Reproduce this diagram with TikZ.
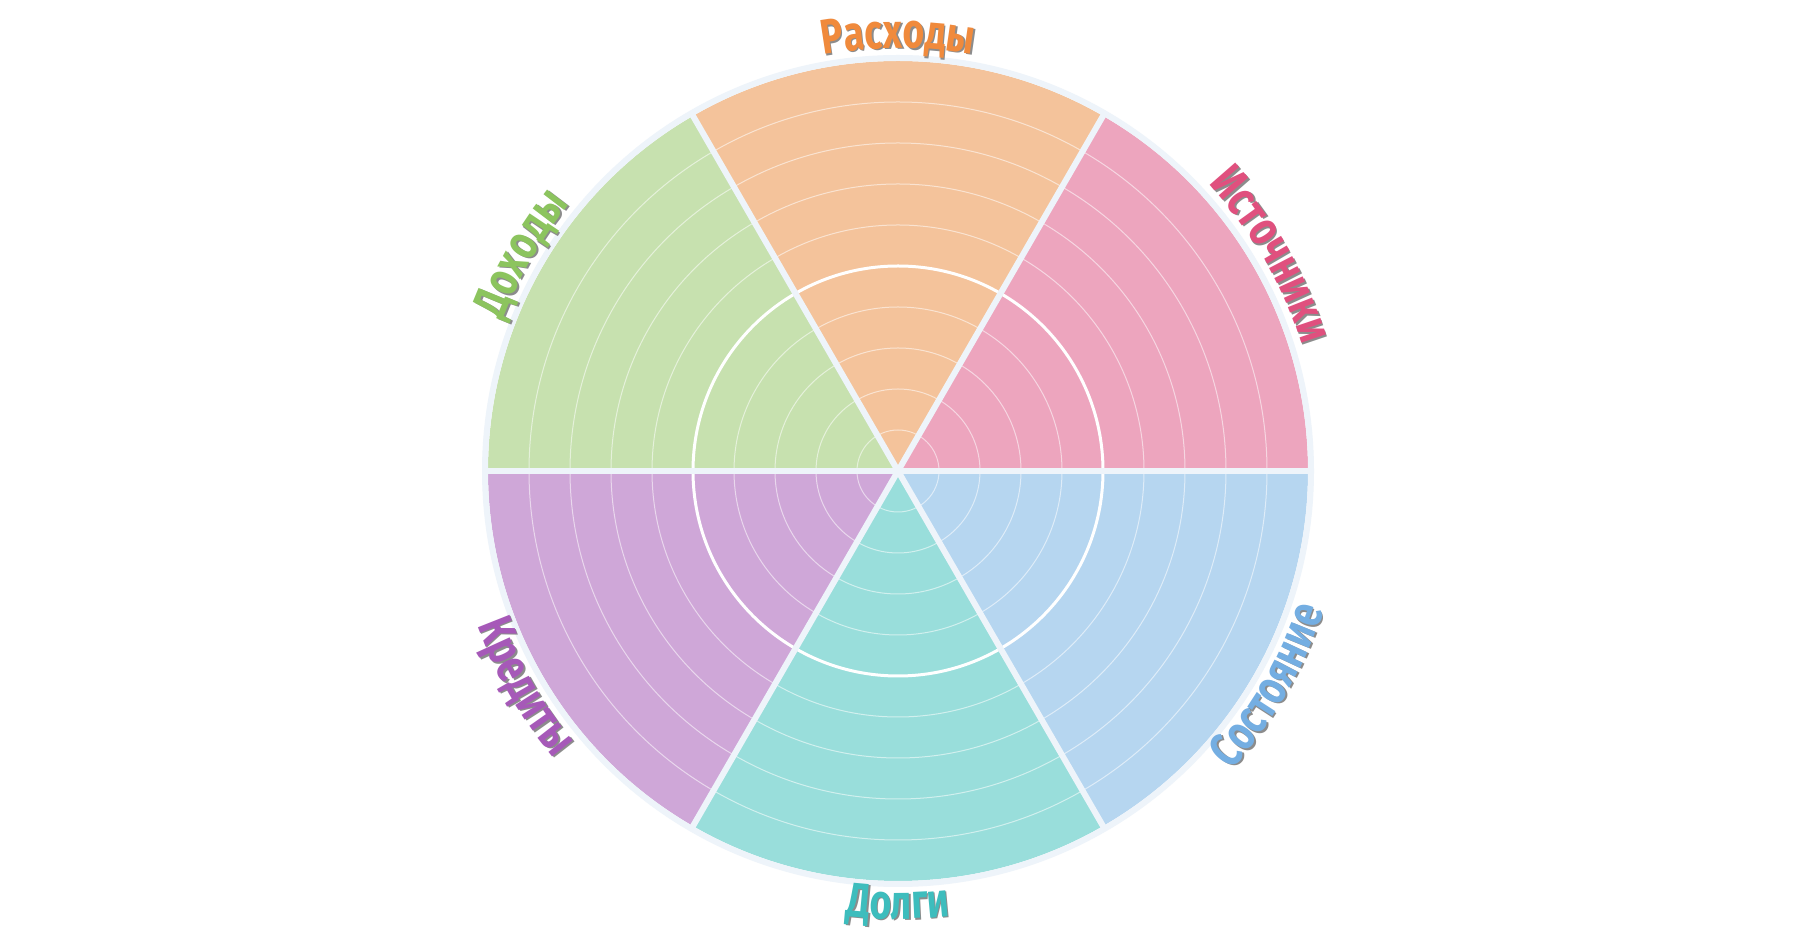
\documentclass[tikz,border=0pt]{standalone}
\usepackage{fontspec}
\usetikzlibrary{decorations.text}
\newfontfamily\labelfont{Fira Sans}[FakeStretch=0.76]
\definecolor{bordercol}{HTML}{EEF4FA}
\definecolor{fOrange}{HTML}{F4C39B}
\definecolor{fPink}{HTML}{EDA5BE}
\definecolor{fGreen}{HTML}{C7E1AF}
\definecolor{fPurple}{HTML}{CFA7D8}
\definecolor{fTeal}{HTML}{99DEDB}
\definecolor{fBlue}{HTML}{B6D6F0}
\definecolor{tOrange}{HTML}{F08A3C}
\definecolor{tPink}{HTML}{E0507E}
\definecolor{tGreen}{HTML}{8CC45E}
\definecolor{tPurple}{HTML}{A659B8}
\definecolor{tTeal}{HTML}{3DBDBD}
\definecolor{tBlue}{HTML}{74AEE2}
\newcommand\lblfmt{\labelfont\bfseries\fontsize{49}{52}\selectfont}
% top labels: clockwise, letters outward
\newcommand\outerlabel[3]{%
  \begin{scope}[shift={(1.6,-1.6)}]
  \path[decorate,decoration={text along path,text align=center,
    text={|\lblfmt\color{black!45}|#3}}]
    ({#1+30}:423) arc[start angle={#1+30},end angle={#1-30},radius=423];
  \end{scope}
  \path[decorate,decoration={text along path,text align=center,
    text={|\lblfmt\color{#2}|#3}}]
    ({#1+30}:423) arc[start angle={#1+30},end angle={#1-30},radius=423];
}
% bottom labels: counterclockwise, letters inward
\newcommand\innerlabel[3]{%
  \begin{scope}[shift={(1.6,-1.6)}]
  \path[decorate,decoration={text along path,text align=center,
    text={|\lblfmt\color{black!45}|#3}}]
    ({#1-30}:448) arc[start angle={#1-30},end angle={#1+30},radius=448];
  \end{scope}
  \path[decorate,decoration={text along path,text align=center,
    text={|\lblfmt\color{#2}|#3}}]
    ({#1-30}:448) arc[start angle={#1-30},end angle={#1+30},radius=448];
}
\tikzset{
  sep/.style={bordercol,line width=6},
  ring/.style={white,opacity=0.55,line width=1},
}
\begin{document}
\begin{tikzpicture}[x=1pt,y=1pt]
\useasboundingbox[fill=white] (0,0) rectangle (1796,942);
\begin{scope}[shift={(898,471)}]
  \fill[fPink]   (0,0) -- (0:410)   arc[start angle=0,end angle=60,radius=410] -- cycle;
  \fill[fOrange] (0,0) -- (60:410)  arc[start angle=60,end angle=120,radius=410] -- cycle;
  \fill[fGreen]  (0,0) -- (120:410) arc[start angle=120,end angle=180,radius=410] -- cycle;
  \fill[fPurple] (0,0) -- (180:410) arc[start angle=180,end angle=240,radius=410] -- cycle;
  \fill[fTeal]   (0,0) -- (240:410) arc[start angle=240,end angle=300,radius=410] -- cycle;
  \fill[fBlue]   (0,0) -- (300:410) arc[start angle=300,end angle=360,radius=410] -- cycle;
  \foreach \r in {41,82,123,164,246,287,328,369}
    \draw[ring] (0,0) circle[radius=\r];
  \draw[white,line width=3] (0,0) circle[radius=205];
  \draw[bordercol,line width=6] (0,0) circle[radius=413];
  \foreach \a in {0,60,...,300}
    \draw[sep] (0,0) -- (\a:413);
  \outerlabel{90}{tOrange}{Расходы}
  \outerlabel{30}{tPink}{Источники}
  \outerlabel{150}{tGreen}{Доходы}
  \innerlabel{210}{tPurple}{Кредиты}
  \innerlabel{270}{tTeal}{Долги}
  \innerlabel{330}{tBlue}{Состояние}
\end{scope}
\end{tikzpicture}
\end{document}
